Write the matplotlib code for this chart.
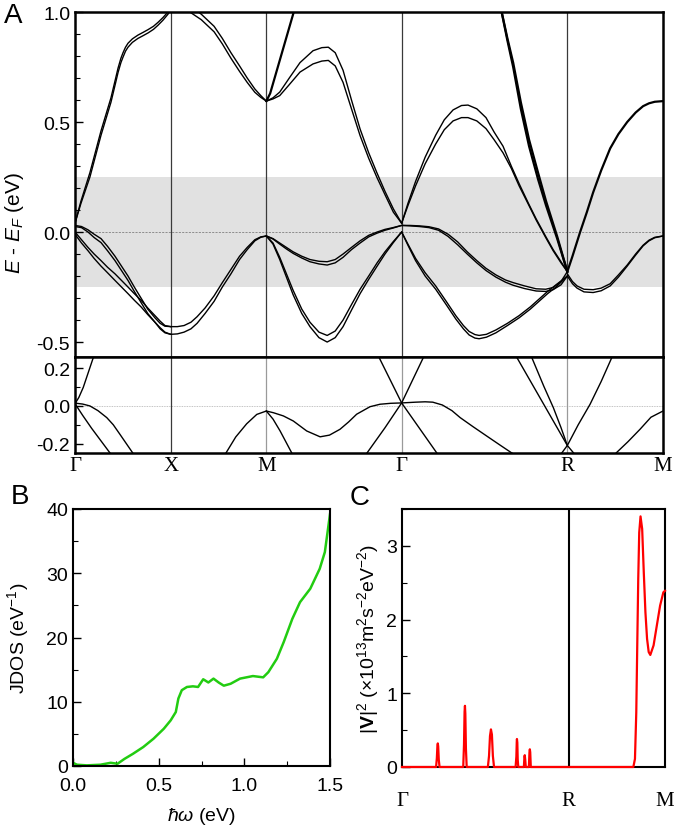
import matplotlib
matplotlib.use('Agg')
import matplotlib.pyplot as plt
from matplotlib.ticker import MultipleLocator, FixedLocator, FormatStrFormatter

plt.rcParams['font.family'] = ['Liberation Sans', 'DejaVu Sans']
plt.rcParams['axes.unicode_minus'] = False
plt.rcParams['mathtext.fontset'] = 'custom'
plt.rcParams['mathtext.rm'] = 'Liberation Sans'
plt.rcParams['mathtext.it'] = 'Liberation Sans:italic'
plt.rcParams['mathtext.bf'] = 'Liberation Sans:bold'

SERIF = ['Liberation Serif', 'DejaVu Serif']

# ---------------- Panel A : band structure ----------------
KPTS = [0.0, 0.5, 1.0, 1.7071, 2.5731, 3.0731]
KLABELS = ['Γ', 'X', 'M', 'Γ', 'R', 'M']

# Γ-X
K_GX_C = [0.0, 0.031, 0.078, 0.136, 0.188, 0.21, 0.225, 0.24, 0.251, 0.264, 0.277, 0.3, 0.329, 0.355, 0.382, 0.41, 0.434, 0.46, 0.486, 0.5]
E_GX_C1 = [0.04, 0.14, 0.27, 0.46, 0.61, 0.69, 0.745, 0.79, 0.815, 0.84, 0.858, 0.878, 0.895, 0.907, 0.92, 0.935, 0.953, 0.975, 1.0, 1.02]
E_GX_C2 = [0.04, 0.13, 0.25, 0.44, 0.59, 0.67, 0.725, 0.77, 0.795, 0.822, 0.84, 0.862, 0.88, 0.892, 0.905, 0.921, 0.94, 0.963, 0.99, 1.01]
K_GX_V = [0.0, 0.034, 0.068, 0.1, 0.136, 0.17, 0.209, 0.243, 0.277, 0.31, 0.345, 0.38, 0.418, 0.445, 0.47, 0.5]
E_GX_V1 = [0.03, 0.025, 0.01, -0.01, -0.03, -0.065, -0.11, -0.155, -0.20, -0.25, -0.30, -0.35, -0.39, -0.415, -0.428, -0.43]
E_GX_V2 = [0.025, 0.02, 0.0, -0.025, -0.048, -0.085, -0.13, -0.175, -0.22, -0.27, -0.32, -0.37, -0.41, -0.44, -0.458, -0.465]
E_GX_V3 = [0.0, -0.035, -0.07, -0.1, -0.13, -0.16, -0.19, -0.22, -0.25, -0.28, -0.31, -0.345, -0.38, -0.405, -0.425, -0.43]
E_GX_V4 = [-0.01, -0.05, -0.085, -0.12, -0.155, -0.185, -0.22, -0.25, -0.28, -0.31, -0.34, -0.375, -0.41, -0.435, -0.455, -0.465]

# X-M
K_XM_C = [0.5, 0.55, 0.60, 0.66, 0.727, 0.77, 0.815, 0.86, 0.90, 0.94, 0.971, 1.0]
E_XM_C1 = [1.02, 1.03, 1.0, 0.965, 0.91, 0.855, 0.79, 0.73, 0.68, 0.635, 0.612, 0.595]
E_XM_C2 = [1.05, 1.06, 1.03, 0.99, 0.935, 0.88, 0.815, 0.755, 0.70, 0.65, 0.62, 0.595]
K_XM_V = [0.5, 0.535, 0.57, 0.606, 0.638, 0.68, 0.727, 0.77, 0.815, 0.86, 0.9, 0.94, 0.971, 1.0]
E_XM_V1 = [-0.43, -0.43, -0.425, -0.41, -0.385, -0.345, -0.29, -0.23, -0.17, -0.11, -0.07, -0.035, -0.022, -0.018]
E_XM_V2 = [-0.465, -0.463, -0.455, -0.44, -0.415, -0.37, -0.315, -0.25, -0.19, -0.125, -0.08, -0.04, -0.024, -0.018]

# M-Γ
K_MG_S = [1.0, 1.02, 1.04, 1.07, 1.1, 1.13, 1.15]
E_MG_S = [0.595, 0.63, 0.69, 0.78, 0.87, 0.96, 1.02]
K_MG_C = [1.0, 1.035, 1.07, 1.12, 1.176, 1.244, 1.29, 1.324, 1.36, 1.401, 1.445, 1.49, 1.535, 1.577, 1.62, 1.664, 1.7071]
E_MG_C1 = [0.595, 0.61, 0.636, 0.70, 0.77, 0.824, 0.838, 0.84, 0.815, 0.735, 0.60, 0.468, 0.36, 0.271, 0.185, 0.105, 0.04]
E_MG_C2 = [0.595, 0.605, 0.62, 0.67, 0.727, 0.764, 0.777, 0.78, 0.755, 0.68, 0.56, 0.438, 0.335, 0.25, 0.17, 0.09, 0.04]
K_MG_V = [1.0, 1.035, 1.07, 1.105, 1.14, 1.185, 1.228, 1.275, 1.318, 1.36, 1.401, 1.445, 1.49, 1.535, 1.579, 1.62, 1.662, 1.7071]
E_MG_V1 = [-0.018, -0.03, -0.05, -0.07, -0.09, -0.11, -0.125, -0.133, -0.135, -0.125, -0.10, -0.07, -0.04, -0.015, 0.0, 0.012, 0.02, 0.03]
E_MG_V2 = [-0.018, -0.032, -0.055, -0.077, -0.097, -0.118, -0.135, -0.145, -0.15, -0.14, -0.115, -0.08, -0.05, -0.022, -0.005, 0.008, 0.018, 0.03]
E_MG_V3 = [-0.018, -0.05, -0.115, -0.19, -0.265, -0.35, -0.41, -0.455, -0.47, -0.45, -0.40, -0.33, -0.26, -0.2, -0.14, -0.09, -0.045, 0.0]
E_MG_V4 = [-0.018, -0.055, -0.125, -0.205, -0.285, -0.37, -0.43, -0.48, -0.50, -0.48, -0.43, -0.355, -0.28, -0.215, -0.155, -0.10, -0.05, 0.0]

# Γ-R
K_GR_C = [1.7071, 1.74, 1.78, 1.83, 1.885, 1.93, 1.976, 2.02, 2.054, 2.1, 2.148, 2.19, 2.237, 2.28, 2.321, 2.37, 2.41, 2.46, 2.499, 2.54, 2.5731]
E_GR_C1 = [0.04, 0.13, 0.23, 0.34, 0.44, 0.51, 0.555, 0.575, 0.577, 0.56, 0.52, 0.455, 0.39, 0.30, 0.22, 0.13, 0.06, -0.02, -0.08, -0.135, -0.18]
E_GR_C2 = [0.04, 0.12, 0.21, 0.31, 0.40, 0.465, 0.505, 0.52, 0.52, 0.505, 0.47, 0.42, 0.36, 0.29, 0.21, 0.125, 0.055, -0.025, -0.085, -0.14, -0.18]
K_GR_S = [2.225, 2.26, 2.29, 2.33, 2.373, 2.42, 2.462, 2.52, 2.5731]
E_GR_S1 = [1.02, 0.87, 0.75, 0.56, 0.39, 0.24, 0.12, -0.03, -0.18]
E_GR_S2 = [1.02, 0.88, 0.77, 0.59, 0.42, 0.27, 0.14, -0.02, -0.18]
K_GR_V = [1.7071, 1.75, 1.8, 1.85, 1.9, 1.95, 2.0, 2.05, 2.1, 2.148, 2.2, 2.25, 2.29, 2.35, 2.41, 2.46, 2.499, 2.54, 2.5731]
E_GR_V1 = [0.03, 0.03, 0.028, 0.024, 0.014, -0.01, -0.045, -0.09, -0.13, -0.165, -0.195, -0.218, -0.23, -0.245, -0.258, -0.26, -0.252, -0.225, -0.18]
E_GR_V2 = [0.03, 0.028, 0.025, 0.02, 0.008, -0.02, -0.058, -0.1, -0.14, -0.175, -0.205, -0.228, -0.242, -0.257, -0.268, -0.27, -0.262, -0.24, -0.2]
K_GR_D = [1.7071, 1.74, 1.78, 1.83, 1.885, 1.94, 1.99, 2.03, 2.06, 2.09, 2.112, 2.15, 2.2, 2.26, 2.321, 2.38, 2.425, 2.47, 2.514, 2.5731]
E_GR_D1 = [0.0, -0.055, -0.12, -0.185, -0.245, -0.315, -0.38, -0.425, -0.452, -0.466, -0.47, -0.465, -0.445, -0.415, -0.38, -0.34, -0.305, -0.27, -0.24, -0.2]
E_GR_D2 = [0.0, -0.06, -0.13, -0.2, -0.26, -0.33, -0.395, -0.44, -0.468, -0.482, -0.485, -0.478, -0.458, -0.425, -0.39, -0.35, -0.315, -0.28, -0.25, -0.2]

# R-M
K_RM_C = [2.5731, 2.6, 2.64, 2.675, 2.708, 2.75, 2.797, 2.84, 2.886, 2.93, 2.969, 3.0, 3.03, 3.0731]
E_RM_C = [-0.18, -0.11, 0.0, 0.09, 0.18, 0.28, 0.38, 0.445, 0.50, 0.543, 0.572, 0.585, 0.592, 0.595]
K_RM_V = [2.5731, 2.6, 2.624, 2.66, 2.708, 2.75, 2.797, 2.84, 2.886, 2.93, 2.969, 3.0, 3.03, 3.0731]
E_RM_V1 = [-0.19, -0.225, -0.245, -0.26, -0.262, -0.255, -0.235, -0.195, -0.15, -0.10, -0.06, -0.037, -0.024, -0.018]
E_RM_V2 = [-0.2, -0.235, -0.255, -0.272, -0.275, -0.267, -0.245, -0.205, -0.155, -0.105, -0.063, -0.04, -0.026, -0.018]

# lower (zoomed) panel bands
KL_1 = [0.0, 0.02, 0.043, 0.096, 0.12]
EL_1 = [0.012, 0.045, 0.098, 0.258, 0.34]
KL_2 = [0.0, 0.04, 0.078, 0.12, 0.166, 0.2, 0.235, 0.302, 0.32]
EL_2 = [0.015, 0.01, 0.0, -0.025, -0.062, -0.1, -0.151, -0.25, -0.28]
KL_3 = [0.0, 0.04, 0.087, 0.183, 0.2]
EL_3 = [0.012, -0.05, -0.119, -0.25, -0.27]
KL_4 = [0.76, 0.789, 0.84, 0.897, 0.95, 1.0]
EL_4 = [-0.30, -0.25, -0.165, -0.095, -0.045, -0.027]
KL_5 = [1.0, 1.035, 1.072, 1.133, 1.15]
EL_5 = [-0.027, -0.07, -0.133, -0.25, -0.29]
KL_6 = [1.0, 1.037, 1.089, 1.141, 1.211, 1.281, 1.33, 1.385, 1.43, 1.472, 1.542, 1.594, 1.65, 1.7071]
EL_6 = [-0.027, -0.036, -0.053, -0.08, -0.133, -0.164, -0.155, -0.124, -0.085, -0.044, -0.004, 0.009, 0.014, 0.016]
KL_7 = [1.49, 1.526, 1.62, 1.7071, 1.821, 1.85]
EL_7 = [-0.30, -0.25, -0.116, 0.016, 0.258, 0.31]
KL_8 = [1.56, 1.589, 1.7071, 1.891, 1.91]
EL_8 = [0.31, 0.258, 0.016, -0.25, -0.28]
KL_9 = [1.7071, 1.78, 1.83, 1.87, 1.92, 1.97, 2.013, 2.08, 2.152, 2.22, 2.283, 2.3]
EL_9 = [0.016, 0.02, 0.022, 0.02, 0.005, -0.025, -0.062, -0.11, -0.16, -0.207, -0.25, -0.26]
KL_10 = [2.28, 2.309, 2.44, 2.5731, 2.606, 2.62]
EL_10 = [0.31, 0.258, 0.026, -0.21, -0.25, -0.27]
KL_11 = [2.37, 2.387, 2.45, 2.5, 2.54, 2.5731]
EL_11 = [0.29, 0.258, 0.105, -0.009, -0.115, -0.21]
KL_12 = [2.53, 2.544, 2.5731, 2.63, 2.692, 2.75, 2.806, 2.83]
EL_12 = [-0.27, -0.25, -0.21, -0.1, 0.009, 0.13, 0.258, 0.31]
KL_13 = [2.81, 2.828, 2.89, 2.953, 3.01, 3.0731]
EL_13 = [-0.28, -0.25, -0.19, -0.124, -0.06, -0.027]

# ---------------- Panel B : JDOS ----------------
HW = [0.0, 0.023, 0.08, 0.16, 0.22, 0.26, 0.30, 0.35, 0.41, 0.47, 0.53, 0.57, 0.60, 0.615,
      0.635, 0.665, 0.70, 0.73, 0.76, 0.79, 0.82, 0.85, 0.88, 0.92, 0.975, 1.05, 1.11, 1.14,
      1.19, 1.23, 1.28, 1.325, 1.385, 1.44, 1.47, 1.5]
JDOS = [0.5, 0.2, 0.1, 0.2, 0.5, 0.35, 1.1, 1.9, 2.95, 4.25, 5.8, 7.1, 8.4, 10.5,
        11.8, 12.3, 12.4, 12.3, 13.5, 13.0, 13.6, 13.0, 12.5, 12.8, 13.6, 14.0, 13.8, 14.6,
        16.7, 19.3, 22.9, 25.5, 27.6, 30.7, 33.3, 39.2]

# ---------------- Panel C : |V|^2 ----------------
KC = [0.0, 0.177, 0.181, 0.184, 0.186, 0.188, 0.191, 0.195,
      0.318, 0.322, 0.325, 0.327, 0.329, 0.332, 0.336,
      0.446, 0.452, 0.457, 0.462, 0.467, 0.472, 0.478,
      0.590, 0.594, 0.596, 0.597, 0.599, 0.601, 0.604,
      0.633, 0.636, 0.6376, 0.640, 0.643,
      0.659, 0.662, 0.664, 0.666, 0.669,
      1.2016, 1.210, 1.2168, 1.2219, 1.227, 1.2321, 1.2389, 1.2474, 1.2558, 1.2643,
      1.2728, 1.2813, 1.2897, 1.3067, 1.3236, 1.3406, 1.3575, 1.366]
V2 = [0, 0, 0.12, 0.29, 0.32, 0.28, 0.1, 0,
      0, 0.3, 0.75, 0.83, 0.72, 0.25, 0,
      0, 0.15, 0.42, 0.51, 0.44, 0.15, 0,
      0, 0.14, 0.34, 0.38, 0.33, 0.1, 0,
      0, 0.14, 0.16, 0.1, 0,
      0, 0.2, 0.24, 0.2, 0,
      0, 0.11, 0.74, 1.65, 2.55, 3.18, 3.4, 3.23, 2.64, 2.1,
      1.74, 1.56, 1.52, 1.65, 1.92, 2.19, 2.37, 2.39]
KC_TICKS = [0.0, 0.866, 1.366]
KC_LABELS = ['Γ', 'R', 'M']

# ---------------- figure ----------------
W, H = 677, 829
fig = plt.figure(figsize=(W / 100, H / 100), dpi=100)

def ax_px(l, t, r, b):
    return fig.add_axes([l / W, 1 - b / H, (r - l) / W, (b - t) / H])

axA = ax_px(75, 13, 663, 358)
axA2 = ax_px(75, 358, 663, 454)
axB = ax_px(73, 510, 330, 767)
axC = ax_px(402, 510, 665, 768)

band_kw = dict(color='black', lw=1.0, solid_joinstyle='round', solid_capstyle='round')
upper_bands = [
    (K_GX_C, E_GX_C1), (K_GX_C, E_GX_C2),
    (K_GX_V, E_GX_V1), (K_GX_V, E_GX_V2), (K_GX_V, E_GX_V3), (K_GX_V, E_GX_V4),
    (K_XM_C, E_XM_C1), (K_XM_C, E_XM_C2), (K_XM_V, E_XM_V1), (K_XM_V, E_XM_V2),
    (K_MG_C, E_MG_C1), (K_MG_C, E_MG_C2),
    (K_MG_V, E_MG_V1), (K_MG_V, E_MG_V2), (K_MG_V, E_MG_V3), (K_MG_V, E_MG_V4),
    (K_GR_C, E_GR_C1), (K_GR_C, E_GR_C2),
    (K_GR_V, E_GR_V1), (K_GR_V, E_GR_V2), (K_GR_D, E_GR_D1), (K_GR_D, E_GR_D2),
    (K_RM_V, E_RM_V1), (K_RM_V, E_RM_V2),
]
thick_bands = [(K_MG_S, E_MG_S), (K_GR_S, E_GR_S1), (K_GR_S, E_GR_S2), (K_RM_C, E_RM_C)]

axA.axhspan(-0.25, 0.25, color='#e1e1e1', lw=0, zorder=0)
axA.axhline(0, color='#808080', lw=0.6, ls=(0, (2.5, 1.5)), zorder=1)
for kx in KPTS[1:-1]:
    axA.axvline(kx, color='#3a3a3a', lw=0.9, zorder=1)
for k, e in upper_bands:
    axA.plot(k, e, zorder=3, **band_kw)
for k, e in thick_bands:
    axA.plot(k, e, color='black', lw=1.6, zorder=3, solid_joinstyle='round')
axA.set_xlim(KPTS[0], KPTS[-1])
axA.set_ylim(-0.568, 1.0)
axA.yaxis.set_major_locator(FixedLocator([-0.5, 0.0, 0.5, 1.0]))
axA.yaxis.set_minor_locator(MultipleLocator(0.1))
axA.set_yticklabels(['-0.5', '0.0', '0.5', '1.0'])
axA.tick_params(axis='y', which='both', direction='in', labelsize=14)
axA.tick_params(axis='y', which='major', length=6, width=1)
axA.tick_params(axis='y', which='minor', length=3.5, width=0.8)
axA.tick_params(axis='x', which='both', bottom=False, labelbottom=False)
axA.set_ylabel(r'$E$ - $E_F$ (eV)', fontsize=15)
axA.yaxis.set_label_coords(-0.083, 0.39)
for s in axA.spines.values():
    s.set_linewidth(1.8)

lower_bands = [(KL_1, EL_1), (KL_2, EL_2), (KL_3, EL_3), (KL_4, EL_4), (KL_5, EL_5),
               (KL_6, EL_6), (KL_7, EL_7), (KL_8, EL_8), (KL_9, EL_9), (KL_10, EL_10),
               (KL_11, EL_11), (KL_12, EL_12), (KL_13, EL_13)]
axA2.axhline(0, color='#b0b0b0', lw=0.6, ls=(0, (1, 1)), zorder=1)
for i, kx in enumerate(KPTS[1:-1]):
    axA2.axvline(kx, color='#3a3a3a' if i == 0 else '#9a9a9a', lw=0.9, zorder=1)
for k, e in lower_bands:
    axA2.plot(k, e, zorder=3, **band_kw)
axA2.set_xlim(KPTS[0], KPTS[-1])
axA2.set_ylim(-0.25, 0.26)
axA2.yaxis.set_major_locator(FixedLocator([-0.2, 0.0, 0.2]))
axA2.yaxis.set_minor_locator(MultipleLocator(0.1))
axA2.set_yticklabels(['-0.2', '0.0', '0.2'])
axA2.tick_params(axis='y', which='both', direction='in', labelsize=14)
axA2.tick_params(axis='y', which='major', length=6, width=1)
axA2.tick_params(axis='y', which='minor', length=3.5, width=0.8)
axA2.set_xticks(KPTS)
axA2.set_xticklabels(KLABELS, family=SERIF, fontsize=15)
axA2.tick_params(axis='x', length=0, pad=2)
for s in axA2.spines.values():
    s.set_linewidth(1.8)

# Panel B
axB.plot(HW, JDOS, color='#22cc11', lw=1.8, solid_joinstyle='round')
axB.set_xlim(0, 1.5)
axB.set_ylim(0, 40)
axB.xaxis.set_major_locator(MultipleLocator(0.5))
axB.xaxis.set_minor_locator(MultipleLocator(0.25))
axB.yaxis.set_major_locator(MultipleLocator(10))
axB.yaxis.set_minor_locator(MultipleLocator(5))
axB.xaxis.set_major_formatter(FormatStrFormatter('%.1f'))
axB.tick_params(which='both', direction='in', labelsize=14)
axB.tick_params(which='major', length=6, width=1)
axB.tick_params(which='minor', length=3.5, width=0.8)
axB.tick_params(axis='x', pad=8)
axB.set_xlabel(r'$\hbar\omega$ (eV)', fontsize=14, labelpad=8)
axB.set_ylabel(r'JDOS (eV$^{-1}$)', fontsize=14)
axB.yaxis.set_label_coords(-0.165, 0.5)
for s in axB.spines.values():
    s.set_linewidth(1.5)

# Panel C
axC.axvline(KC_TICKS[1], color='black', lw=1.5, zorder=1)
axC.plot(KC, V2, color='#ff0000', lw=1.6, zorder=3, solid_joinstyle='round', clip_on=False)
axC.set_xlim(KC_TICKS[0], KC_TICKS[-1])
axC.set_ylim(0, 3.5)
axC.yaxis.set_major_locator(MultipleLocator(1))
axC.yaxis.set_minor_locator(MultipleLocator(0.5))
axC.set_xticks(KC_TICKS)
axC.set_xticklabels(KC_LABELS, family=SERIF, fontsize=15)
axC.tick_params(axis='x', length=0, pad=17)
axC.tick_params(axis='y', which='both', direction='in', labelsize=14)
axC.tick_params(axis='y', which='major', length=6, width=1)
axC.tick_params(axis='y', which='minor', length=3.5, width=0.8)
axC.set_ylabel(r'$|\mathbf{V}|^2$ (×10$^{13}$m$^2$s$^{-2}$eV$^{-2}$)', fontsize=14)
for s in axC.spines.values():
    s.set_linewidth(1.5)

fig.text(13 / W, 1 - 16 / H, 'A', fontsize=20, ha='center', va='center')
fig.text(20 / W, 1 - 497 / H, 'B', fontsize=20, ha='center', va='center')
fig.text(360 / W, 1 - 498 / H, 'C', fontsize=20, ha='center', va='center')

fig.savefig('out.png', dpi=100)
